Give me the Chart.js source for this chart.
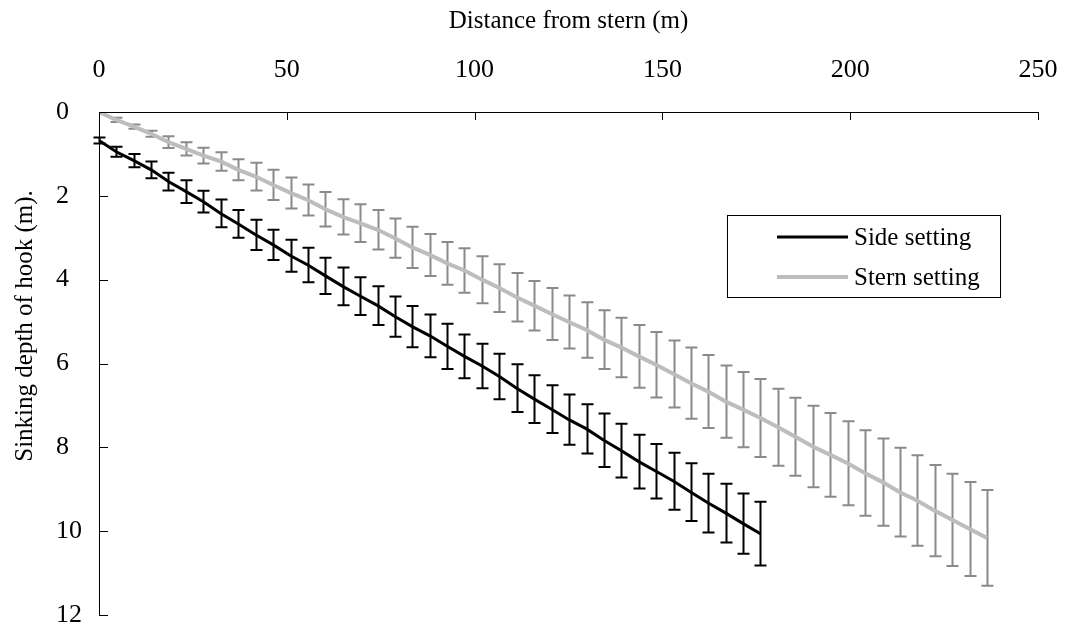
<!DOCTYPE html>
<html>
<head>
<meta charset="utf-8">
<script src="https://cdn.jsdelivr.net/npm/chart.js@4.4.1/dist/chart.umd.min.js"></script>
<style>
  html, body { margin: 0; padding: 0; background: #ffffff; }
  #wrap { width: 1066px; height: 634px; position: relative; }
</style>
</head>
<body>
<div id="wrap"><canvas id="c" width="1066" height="634"></canvas></div>
<script>
// ---- data ----
const xTitle = 'Distance from stern (m)';
const yTitle = 'Sinking depth of hook (m).';
const xTicks = [0, 50, 100, 150, 200, 250];
const yTicks = [0, 2, 4, 6, 8, 10, 12];

const distance = [0, 4.6, 9.3, 13.9, 18.5, 23.2, 27.8, 32.4, 37.1, 41.7, 46.4, 51.0, 55.6, 60.3, 64.9,
  69.5, 74.2, 78.8, 83.4, 88.1, 92.7, 97.3, 102.0, 106.6, 111.2, 115.9, 120.5, 125.1, 129.8, 134.4,
  139.1, 143.7, 148.3, 153.0, 157.6, 162.2, 166.9, 171.5, 176.1, 180.8, 185.4, 190.0, 194.7, 199.3,
  203.9, 208.6, 213.2, 217.8, 222.5, 227.1, 231.8, 236.4];

const sideLabel = 'Side setting';
const sideDepth = [0.68, 0.95, 1.16, 1.38, 1.66, 1.90, 2.14, 2.42, 2.67, 2.93, 3.17, 3.43, 3.65, 3.91,
  4.16, 4.39, 4.62, 4.88, 5.12, 5.34, 5.59, 5.83, 6.06, 6.31, 6.59, 6.85, 7.09, 7.34, 7.56, 7.83,
  8.08, 8.34, 8.57, 8.81, 9.07, 9.33, 9.57, 9.82, 10.06];
const sideSD = [0.07, 0.12, 0.16, 0.20, 0.21, 0.27, 0.26, 0.33, 0.33, 0.36, 0.36, 0.38, 0.41, 0.43,
  0.45, 0.45, 0.46, 0.48, 0.49, 0.51, 0.54, 0.52, 0.53, 0.54, 0.57, 0.57, 0.57, 0.60, 0.59, 0.64,
  0.64, 0.64, 0.65, 0.68, 0.69, 0.70, 0.70, 0.72, 0.76];

const sternLabel = 'Stern setting';
const sternDepth = [0.00, 0.19, 0.35, 0.52, 0.72, 0.88, 1.04, 1.18, 1.38, 1.54, 1.74, 1.93, 2.10, 2.32,
  2.50, 2.65, 2.81, 3.01, 3.23, 3.41, 3.61, 3.78, 4.00, 4.20, 4.42, 4.62, 4.82, 5.01, 5.20, 5.43,
  5.62, 5.83, 6.03, 6.25, 6.47, 6.67, 6.91, 7.10, 7.30, 7.52, 7.75, 7.98, 8.18, 8.38, 8.61, 8.83,
  9.07, 9.27, 9.51, 9.73, 9.95, 10.16];
const sternSD = [0.00, 0.05, 0.05, 0.07, 0.14, 0.16, 0.19, 0.22, 0.25, 0.33, 0.36, 0.37, 0.37, 0.41,
  0.42, 0.45, 0.47, 0.47, 0.49, 0.50, 0.51, 0.53, 0.56, 0.57, 0.58, 0.59, 0.62, 0.63, 0.66, 0.70,
  0.71, 0.75, 0.78, 0.80, 0.85, 0.87, 0.86, 0.90, 0.93, 0.92, 0.93, 0.97, 1.00, 1.00, 1.02, 1.04,
  1.06, 1.08, 1.09, 1.10, 1.12, 1.14];

// ---- build chart ----
const FONT = "'Liberation Serif', 'Times New Roman', serif";
const pts = (xs, ys) => ys.map((v, i) => ({ x: xs[i], y: v }));

const errorBars = {
  id: 'errorBars',
  beforeDatasetsDraw(chart) {
    const { ctx } = chart;
    const xs = chart.scales.x, ys = chart.scales.y;
    chart.data.datasets.forEach((ds) => {
      ctx.save();
      ctx.strokeStyle = ds.errorColor;
      ctx.lineWidth = ds.errorWidth;
      ds.data.forEach((p, j) => {
        const e = ds.errors[j];
        if (!e) return;
        const px = Math.round(xs.getPixelForValue(p.x)) + 0.5;
        const y1 = ys.getPixelForValue(p.y - e);
        const y2 = ys.getPixelForValue(p.y + e);
        const cw = 6;
        ctx.beginPath();
        ctx.moveTo(px, y1); ctx.lineTo(px, y2);
        ctx.moveTo(px - cw, y1); ctx.lineTo(px + cw, y1);
        ctx.moveTo(px - cw, y2); ctx.lineTo(px + cw, y2);
        ctx.stroke();
      });
      ctx.restore();
    });
  }
};

const decorations = {
  id: 'decorations',
  afterDraw(chart) {
    const { ctx, chartArea: a } = chart;
    const xs = chart.scales.x, ys = chart.scales.y;
    ctx.save();
    // inside tick marks
    ctx.strokeStyle = '#000';
    ctx.lineWidth = 1;
    ctx.beginPath();
    xs.ticks.forEach(t => {
      const px = Math.round(xs.getPixelForValue(t.value)) + 0.5;
      ctx.moveTo(px, a.top); ctx.lineTo(px, a.top + 8);
    });
    ys.ticks.forEach(t => {
      const py = Math.round(ys.getPixelForValue(t.value)) + 0.5;
      ctx.moveTo(a.left, py); ctx.lineTo(a.left + 9, py);
    });
    ctx.stroke();

    // axis titles
    ctx.fillStyle = '#000';
    ctx.font = '25px ' + FONT;
    ctx.textAlign = 'center';
    ctx.textBaseline = 'middle';
    ctx.fillText(xTitle, (a.left + a.right) / 2, 21);
    ctx.save();
    ctx.translate(25, 326);
    ctx.rotate(-Math.PI / 2);
    ctx.fillText(yTitle, 0, 0);
    ctx.restore();

    // legend box
    const bx = 727.5, by = 215.5, bw = 273, bh = 82;
    ctx.fillStyle = '#fff';
    ctx.fillRect(bx, by, bw, bh);
    ctx.strokeStyle = '#000';
    ctx.lineWidth = 1;
    ctx.strokeRect(bx, by, bw, bh);
    const rows = [237, 277];
    chart.data.datasets.forEach((ds, i) => {
      const yy = rows[i];
      ctx.strokeStyle = ds.borderColor;
      ctx.lineWidth = ds.borderWidth;
      ctx.beginPath();
      ctx.moveTo(777, yy); ctx.lineTo(848, yy);
      ctx.stroke();
      ctx.fillStyle = '#000';
      ctx.font = '25px ' + FONT;
      ctx.textAlign = 'left';
      ctx.textBaseline = 'middle';
      ctx.fillText(ds.label, 854, yy + 1);
    });
    ctx.restore();
  }
};

new Chart(document.getElementById('c'), {
  type: 'line',
  data: {
    datasets: [
      {
        label: sideLabel,
        data: pts(distance, sideDepth),
        errors: sideSD,
        borderColor: '#000000',
        borderWidth: 3,
        errorColor: '#000000',
        errorWidth: 2,
        pointRadius: 0,
        tension: 0,
        fill: false
      },
      {
        label: sternLabel,
        data: pts(distance, sternDepth),
        errors: sternSD,
        borderColor: '#bdbdbd',
        borderWidth: 4,
        errorColor: '#8a8a8a',
        errorWidth: 2,
        pointRadius: 0,
        tension: 0,
        fill: false
      }
    ]
  },
  options: {
    responsive: false,
    animation: false,
    devicePixelRatio: 1,
    layout: { padding: { left: 56, top: 40, right: 28, bottom: 19 } },
    plugins: { legend: { display: false }, tooltip: { enabled: false } },
    scales: {
      x: {
        type: 'linear',
        position: 'top',
        min: 0, max: 250,
        afterBuildTicks: s => { s.ticks = xTicks.map(v => ({ value: v })); },
        afterFit: s => { s.height = 72; },
        grid: { display: true, drawOnChartArea: false, drawTicks: true, tickLength: 26, tickColor: 'rgba(0,0,0,0)' },
        border: { display: true, color: '#000', width: 1 },
        ticks: { color: '#000', padding: 0, maxRotation: 0, font: { family: FONT, size: 26 } }
      },
      y: {
        type: 'linear',
        position: 'left',
        reverse: true,
        min: 0, max: 12,
        afterBuildTicks: s => { s.ticks = yTicks.map(v => ({ value: v })); },
        afterFit: s => { s.width = 43; },
        grid: { display: false, drawTicks: false },
        border: { display: true, color: '#000', width: 1 },
        ticks: { color: '#000', crossAlign: 'far', padding: 0, font: { family: FONT, size: 26 } }
      }
    }
  },
  plugins: [errorBars, decorations]
});
</script>
</body>
</html>
